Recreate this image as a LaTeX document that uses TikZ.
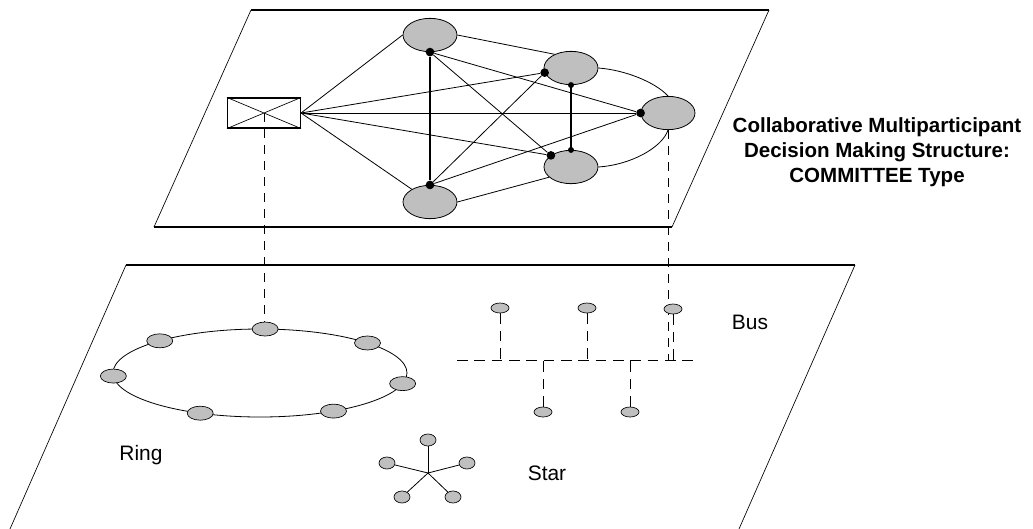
\documentclass[tikz,border=0pt]{standalone}
\usepackage{fontspec}
\setmainfont{Liberation Sans}
\usetikzlibrary{positioning, shapes.geometric, calc}

\begin{document}
\begin{tikzpicture}[x=0.75pt, y=-0.75pt,
    member/.style={ellipse, draw, line width=0.6pt, fill=gray!50, minimum width=40.5pt, minimum height=25pt, inner sep=0pt},
    ringnode/.style={ellipse, draw, line width=0.5pt, fill=gray!50, minimum width=19.5pt, minimum height=10.5pt, inner sep=0pt},
    busnode/.style={ellipse, draw, line width=0.5pt, fill=gray!50, minimum width=13.5pt, minimum height=7.5pt, inner sep=0pt},
    starnode/.style={ellipse, draw, line width=0.5pt, fill=gray!50, minimum width=12pt, minimum height=9pt, inner sep=0pt},
    joint/.style={circle, fill, inner sep=0pt, minimum size=6.5pt},
    smalljoint/.style={circle, fill, inner sep=0pt, minimum size=4.5pt},
    link/.style={line width=0.6pt},
    edge/.style={line width=0.5pt},
    rim/.style={line width=0.9pt},
    proj/.style={line width=0.6pt, dash pattern=on 7pt off 5pt},
    busline/.style={line width=0.7pt, dash pattern=on 8pt off 5pt},
    typename/.style={font=\fontsize{15.7}{18}\selectfont},
    heading/.style={font=\bfseries\fontsize{15.4}{18.7}\selectfont, align=center}]

    \useasboundingbox (0,0) rectangle (1033,529);

    % upper plane
    \coordinate (tl) at (251,10);
    \coordinate (tr) at (769,10);
    \coordinate (br) at (672,227);
    \coordinate (bl) at (154,227);
    \draw[rim] (tl) -- (tr);
    \draw[rim] (bl) -- (br);
    \draw[edge] (tl) -- (bl);
    \draw[edge] (tr) -- (br);

    % lower plane, open at the bottom
    \coordinate (ftl) at (126,265);
    \coordinate (ftr) at (855,265);
    \coordinate (fbl) at (10,529);
    \coordinate (fbr) at (739,529);
    \draw[rim] (ftl) -- (ftr);
    \draw[edge] (ftl) -- (fbl);
    \draw[edge] (ftr) -- (fbr);

    % committee: chair box and five members
    \node[draw, line width=0.8pt, minimum width=54.75pt, minimum height=22.5pt, inner sep=0pt] (chair) at (264,113) {};
    \draw[edge] (chair.north west) -- (chair.south east) (chair.south west) -- (chair.north east);

    \node[member] (m1) at (430,35) {};
    \node[member] (m2) at (571,68) {};
    \node[member] (m3) at (668,113) {};
    \node[member] (m4) at (571,167) {};
    \node[member] (m5) at (430,202) {};

    \node[joint] (j1) at (m1.south) {};
    \node[joint] (j2) at (m2.190) {};
    \node[joint] (j3) at (m3.west) {};
    \node[joint] (j4) at (m4.150) {};
    \node[joint] (j5) at (m5.north) {};
    \node[smalljoint] (j2b) at (m2.south) {};
    \node[smalljoint] (j4b) at (m4.north) {};

    % chair to everyone
    \draw[link] (chair.east) -- (m1.west);
    \draw[link] (chair.east) -- (j2);
    \draw[link] (chair.east) -- (j3);
    \draw[link] (chair.east) -- (j4);
    \draw[link] (chair.east) -- (m5.145);

    % members among themselves
    \draw[line width=0.9pt] (j1) -- (j5);
    \draw[link] (j1) -- (j3);
    \draw[link] (j1) -- (j4);
    \draw[link] (j5) -- (j2);
    \draw[link] (j5) -- (j3);
    \draw[line width=0.8pt] (j2b) -- (j4b);

    % outer rim of the committee
    \draw[link] (m1.east) -- (m2.140);
    \draw[link] (m2.east) .. controls (625,70) and (655,82) .. (m3.north);
    \draw[link] (m3.south) .. controls (662,148) and (630,165) .. (m4.east);
    \draw[link] (m4.205) -- (m5.east);

    % ring
    \coordinate (ringc) at (260,373);
    \draw[link] (ringc) ellipse [x radius=110.25pt, y radius=33pt];
    \foreach \a [count=\i] in {272,317,14,60,114,176,227}
        \node[ringnode] (r\i) at ($(ringc)+(\a:147 and 44)$) {};

    % projection lines
    \coordinate (busL) at (457,360);
    \coordinate (busR) at (693,360);
    \draw[proj] (chair.center) -- (chair.center |- r1.north);
    \draw[proj] (m3.south) -- (m3.south |- busL);

    % bus
    \draw[busline] (busL) -- (busR);
    \node[busnode] (b1) at (500,308) {};
    \node[busnode] (b2) at (587,308) {};
    \node[busnode] (b3) at (673,309) {};
    \node[busnode] (b4) at (543,412) {};
    \node[busnode] (b5) at (630,412) {};
    \foreach \n in {b1,b2,b3}
        \draw[busline] (\n.south) -- (\n.south |- busL);
    \foreach \n in {b4,b5}
        \draw[busline] (\n.north) -- (\n.north |- busL);

    % star
    \coordinate (hub) at (428,473);
    \node[starnode] (s1) at (428,440) {};
    \node[starnode] (s2) at (387,463) {};
    \node[starnode] (s3) at (467,463) {};
    \node[starnode] (s4) at (402,497) {};
    \node[starnode] (s5) at (453,497) {};
    \foreach \n in {s1,s2,s3,s4,s5}
        \draw[link] (hub) -- (\n);

    % names
    \node[typename] (ringname) at (141,455) {Ring};
    \node[typename] (starname) at (547,473) {Star};
    \node[typename] (busname) at (750,322) {Bus};
    \node[heading] (title) at (877,152) {Collaborative Multiparticipant\\Decision Making Structure:\\COMMITTEE Type};
\end{tikzpicture}
\end{document}
